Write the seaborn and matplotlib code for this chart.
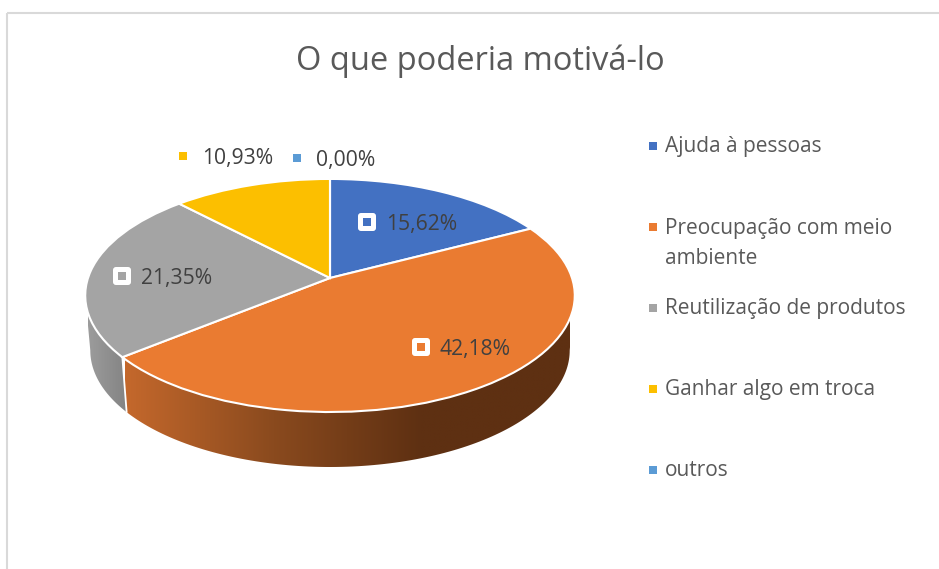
import numpy as np
import matplotlib
matplotlib.use("Agg")
import matplotlib.pyplot as plt
import seaborn as sns
from matplotlib.colors import LinearSegmentedColormap
from matplotlib.patches import FancyBboxPatch, Polygon, Rectangle
from matplotlib.transforms import Transform

# --- DATA ---
CATEGORIES = ["Ajuda à pessoas", "Preocupação com meio\nambiente", "Reutilização de produtos",
              "Ganhar algo em troca", "outros"]
VALUES = [15.62, 42.18, 21.35, 10.93, 0.0]
LABELS = ["15,62%", "42,18%", "21,35%", "10,93%", "0,00%"]
COLORS = ["#4371C2", "#EA7B31", "#A4A4A4", "#FCBF00", "#5B9BD5"]

# --- LAYOUT (figure pixels) ---
LABEL_POS = [(367, 222), (421, 347), (122, 276), (183, 156), (297, 158)]
LABEL_BOXED = [True, True, True, False, False]
LEGEND_Y = [145.5, 226.5, 307.5, 388.5, 469.5]


class TiltedDisc(Transform):
    """Unit circle -> tilted disc seen in perspective, in pixel coordinates."""
    input_dims = 2
    output_dims = 2
    has_inverse = False

    def __init__(self, cx, cy, a, b, k):
        super().__init__()
        self.cx, self.cy, self.a, self.b, self.k = cx, cy, a, b, k

    def transform_non_affine(self, values):
        values = np.asarray(values, dtype=float)
        w = 1 + self.k * values[:, 1]
        return np.column_stack([self.cx + self.a * values[:, 0] / w,
                                self.cy - self.b * values[:, 1] / w])


def rim(disc, start, stop):
    # start/stop are degrees clockwise from twelve o'clock
    ang = np.radians(90 - np.linspace(start, stop, 120))
    return disc.transform_non_affine(np.column_stack([np.cos(ang), np.sin(ang)]))


def draw_wall(ax, top, bottom, start, stop, colors, x0, x1):
    pts = np.vstack([rim(top, start, stop), rim(bottom, stop, start)])
    cmap = LinearSegmentedColormap.from_list("wall", colors)
    im = ax.imshow(np.linspace(0, 1, 256)[None, :], extent=(x0, x1, 480, 280), cmap=cmap,
                   aspect="auto", zorder=1, interpolation="bilinear")
    im.set_clip_path(Polygon(pts, transform=ax.transData))


sns.set_theme(style="white")
plt.rcParams["font.family"] = ["Open Sans", "DejaVu Sans"]

fig = plt.figure(figsize=(9.39, 5.69), dpi=100)
ax = fig.add_axes([0, 0, 1, 1])

top_disc = TiltedDisc(330, 278, 242, 113.9, 0.15)
bottom_disc = TiltedDisc(330, 333, 237, 113.9, 0.15)

palette = sns.color_palette(COLORS)
wedges, _ = ax.pie(VALUES, colors=palette, startangle=90, counterclock=False,
                   wedgeprops={"edgecolor": "white", "linewidth": 1.5, "zorder": 3})
for wedge in wedges:
    wedge.set_transform(top_disc + ax.transData)
    wedge.set_clip_on(False)

# side wall of the disc, only orange and grey are seen from this angle
cuts = np.cumsum(VALUES) / np.sum(VALUES) * 360
draw_wall(ax, top_disc, bottom_disc, 98.6, cuts[1],
          ["#C4682C", "#8A4A1E", "#5E3012", "#5E3012"], 125, 570)
draw_wall(ax, top_disc, bottom_disc, cuts[1], 261.4, ["#848484", "#9C9C9C"], 126, 88)
corner = np.vstack([rim(top_disc, cuts[1], cuts[1])[0], rim(bottom_disc, cuts[1], cuts[1])[0]])
ax.plot(corner[:, 0], corner[:, 1], color="white", lw=1.3, zorder=2)

# chart border, runs off the right and bottom of the picture
ax.add_patch(Rectangle((7, 13), 1200, 900, fill=False, edgecolor="#D9D9D9", lw=1.5, zorder=0))

ax.text(480, 61, "O que poderia motivá-lo", color="#595959", fontsize=23.5,
        ha="center", va="center", zorder=6)

# data labels
for (x, y), label, color, boxed in zip(LABEL_POS, LABELS, COLORS, LABEL_BOXED):
    if boxed:
        ax.add_patch(FancyBboxPatch((x - 6, y - 6), 12, 12, boxstyle="round,pad=3,rounding_size=3",
                                    facecolor="white", edgecolor="none", zorder=5))
    ax.scatter([x], [y], marker="s", s=33, color=color, linewidths=0, zorder=6)
    ax.text(x + 19, y + 2.5, label, color="#404040", fontsize=15.2, ha="left", va="center", zorder=6)

# legend
for y, name, color in zip(LEGEND_Y, CATEGORIES, COLORS):
    ax.scatter([652.5], [y], marker="s", s=33, color=color, linewidths=0, zorder=6)
    ax.text(665, y + 1 if "\n" not in name else y + 17, name, color="#595959", fontsize=15,
            ha="left", va="center", linespacing=1.55, zorder=6)

ax.set_aspect("auto")
ax.set_xlim(0, 939)
ax.set_ylim(569, 0)
ax.axis("off")

fig.savefig("out.png", dpi=100, facecolor="white")
